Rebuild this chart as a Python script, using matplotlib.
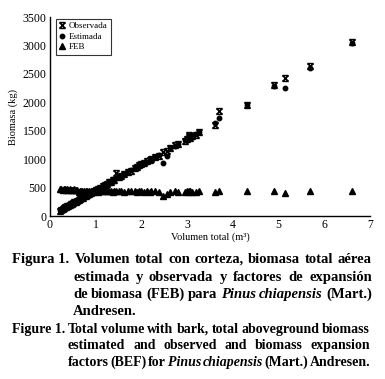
import matplotlib
matplotlib.use('Agg')
import matplotlib.pyplot as plt
from matplotlib.path import Path

# Volumen total (m3) y biomasa (kg)
volumen = [0.22, 0.25, 0.28, 0.30, 0.33, 0.35, 0.38, 0.40, 0.43, 0.46,
           0.48, 0.50, 0.53, 0.56, 0.60, 0.63, 0.66, 0.68, 0.70, 0.72,
           0.75, 0.78, 0.80, 0.83, 0.86, 0.90, 0.93, 0.96, 1.00, 1.03,
           1.06, 1.10, 1.15, 1.20, 1.25, 1.30, 1.33, 1.37, 1.40, 1.45,
           1.50, 1.55, 1.62, 1.70, 1.78, 1.85, 1.90, 1.95, 2.00, 2.05,
           2.12, 2.18, 2.22, 2.30, 2.39, 2.48, 2.55, 2.63, 2.73, 2.81,
           2.95, 3.00, 3.03, 3.05, 3.07, 3.10, 3.19, 3.27, 3.61, 3.70,
           4.30, 4.90, 5.14, 5.69, 6.60]

observada = [95, 110, 125, 135, 150, 160, 170, 180, 195, 210,
             215, 230, 240, 255, 270, 290, 300, 315, 330, 325,
             345, 355, 365, 380, 390, 410, 420, 435, 455, 465,
             480, 500, 520, 545, 565, 590, 600, 625, 640, 760,
             680, 710, 740, 770, 800, 840, 860, 890, 910, 930,
             960, 990, 1010, 1040, 1050, 1120, 1150, 1190, 1250, 1260,
             1320, 1350, 1390, 1420, 1370, 1400, 1430, 1480, 1600, 1850,
             1955, 2300, 2420, 2640, 3060]

estimada = [100, 112, 128, 138, 150, 162, 172, 184, 196, 208,
            218, 228, 242, 256, 272, 286, 300, 312, 322, 330,
            344, 356, 366, 380, 392, 410, 422, 436, 452, 466,
            480, 498, 520, 542, 566, 588, 602, 620, 636, 660,
            684, 706, 736, 772, 806, 836, 858, 880, 904, 926,
            958, 986, 1004, 1040, 1080, 940, 1050, 1190, 1236, 1270,
            1336, 1358, 1372, 1380, 1390, 1400, 1442, 1478, 1630, 1730,
            1950, 2290, 2260, 2610, 3050]

feb = [478, 470, 466, 472, 468, 462, 470, 464, 468, 460,
       466, 462, 470, 458, 464, 420, 432, 440, 446, 430,
       438, 436, 442, 430, 438, 434, 440, 432, 436, 442,
       430, 438, 434, 440, 432, 436, 440, 430, 438, 434,
       432, 436, 428, 440, 432, 436, 430, 440, 434, 430,
       438, 428, 436, 432, 420, 345, 385, 430, 436, 428,
       430, 440, 424, 436, 432, 428, 430, 436, 424, 440,
       446, 448, 410, 440, 438]

x_ticks = [0, 1, 2, 3, 4, 5, 6, 7]
y_ticks = [0, 500, 1000, 1500, 2000, 2500, 3000, 3500]

W, H = 385, 379
plt.rcParams['font.family'] = ['Liberation Serif', 'DejaVu Serif']

fig = plt.figure(figsize=(W / 100, H / 100), dpi=100)
ax = fig.add_axes([50 / W, 1 - 216 / H, 320 / W, 199 / H])

# marcador tipo "reloj de arena" (X con barras)
star = Path([(-1, -1), (1, 1), (-1, 1), (1, -1), (-1, 1), (1, 1), (-1, -1), (1, -1)],
            [Path.MOVETO, Path.LINETO] * 4)

ax.plot(volumen, feb, '^', color='black', markersize=4.2, linestyle='none', label='FEB')
ax.plot(volumen, estimada, 'o', color='black', markersize=3.2, linestyle='none', label='Estimada')
ax.plot(volumen, observada, marker=star, color='black', markersize=4.2, mew=1.1,
        linestyle='none', label='Observada')

ax.set_xlim(0, 7)
ax.set_ylim(0, 3500)
ax.set_xticks(x_ticks)
ax.set_yticks(y_ticks)
ax.tick_params(length=0, labelsize=8.5, pad=2.5)
ax.spines['top'].set_visible(False)
ax.spines['right'].set_visible(False)
for s in ('left', 'bottom'):
    ax.spines[s].set_linewidth(1.0)
ax.set_xlabel('Volumen total (m³)', fontsize=7.5, labelpad=1)
ax.set_ylabel('Biomasa (kg)', fontsize=7.5, labelpad=3)

h, l = ax.get_legend_handles_labels()
leg = ax.legend(h[::-1], l[::-1], loc='upper left', bbox_to_anchor=(0.012, 1.0),
                fontsize=6.5, frameon=True, fancybox=False, handlelength=0.8,
                handletextpad=0.3, borderpad=0.35, labelspacing=0.25,
                borderaxespad=0.2)
leg.get_frame().set_edgecolor('black')
leg.get_frame().set_linewidth(0.8)

# Pie de figura, justificado
renderer = fig.canvas.get_renderer()


def put_line(words, x0, x1, y, size, justify=True):
    texts = []
    for w, style in words:
        t = fig.text(0, 1 - y / H, w, fontsize=size, fontweight='bold', style=style,
                     va='baseline', ha='left')
        texts.append(t)
    widths = [t.get_window_extent(renderer).width for t in texts]
    if justify and len(texts) > 1:
        gap = (x1 - x0 - sum(widths)) / (len(texts) - 1)
    else:
        gap = 3.0
    x = x0
    for t, wd in zip(texts, widths):
        t.set_x(x / W)
        x += wd + gap


def words_of(s, italic=()):
    out = []
    for w in s.split():
        out.append((w, 'italic' if w in italic else 'normal'))
    return out


it = ('Pinus', 'chiapensis')
ES, EN = 10.5, 10
put_line([('Figura 1.', 'normal')], 12, 70, 263, ES, justify=False)
put_line(words_of('Volumen total con corteza, biomasa total aérea'), 75, 372, 263, ES)
put_line(words_of('estimada y observada y factores de expansión'), 73, 372, 281, ES)
put_line(words_of('de biomasa (FEB) para Pinus chiapensis (Mart.)', it), 73, 372, 298, ES)
put_line(words_of('Andresen.'), 73, 372, 315, ES, justify=False)
put_line([('Figure 1.', 'normal')], 12, 66, 333, EN, justify=False)
put_line(words_of('Total volume with bark, total aboveground biomass'), 68, 370, 333, EN)
put_line(words_of('estimated and observed and biomass expansion'), 68, 370, 349, EN)
put_line(words_of('factors (BEF) for Pinus chiapensis (Mart.) Andresen.', it), 68, 370, 366, EN)

fig.savefig('out.png', dpi=100)
